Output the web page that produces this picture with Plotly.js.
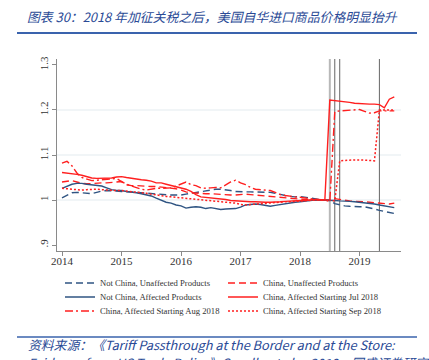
<!DOCTYPE html>
<html>
<head>
<meta charset="utf-8">
<script src="https://cdn.plot.ly/plotly-3.0.1.min.js"></script>
<style>
  html, body { margin: 0; padding: 0; background: #fff; }
  #chart { width: 429px; height: 360px; }
</style>
</head>
<body>
<div id="chart"></div>
<script>
// ---------------- DATA ----------------
// Monthly observations, Jan 2014 .. Aug 2019 (68 months)
const startYear = 2014;
const nMonths = 68;
const months = Array.from({length: nMonths}, (_, i) => startYear + i / 12);

const notChinaUnaffected = [
  1.005,1.010,1.016,1.017,1.016,1.014,1.014,1.017,1.020,1.021,1.021,1.020,
  1.019,1.019,1.018,1.017,1.016,1.015,1.014,1.013,1.012,1.011,1.011,1.011,
  1.011,1.013,1.015,1.017,1.018,1.020,1.022,1.024,1.024,1.023,1.021,1.019,
  1.018,1.018,1.018,1.018,1.018,1.017,1.017,1.015,1.012,1.010,1.008,1.007,
  1.008,1.006,1.004,1.002,1.001,1.000,0.999,0.992,0.989,0.987,0.986,0.985,
  0.985,0.985,0.983,0.980,0.977,0.975,0.972,0.970
];
const chinaUnaffected = [
  1.040,1.042,1.043,1.040,1.037,1.036,1.037,1.037,1.038,1.038,1.039,1.040,
  1.041,1.034,1.032,1.032,1.031,1.031,1.030,1.030,1.029,1.028,1.027,1.025,
  1.022,1.018,1.016,1.015,1.015,1.014,1.014,1.013,1.013,1.012,1.011,1.011,
  1.012,1.013,1.012,1.011,1.010,1.009,1.008,1.007,1.005,1.004,1.003,1.002,
  1.002,1.001,1.001,1.000,1.000,1.000,1.000,1.003,1.001,0.999,0.998,0.997,
  0.997,0.996,0.995,0.994,0.993,0.992,0.991,0.993
];
const notChinaAffected = [
  1.026,1.030,1.035,1.037,1.037,1.035,1.034,1.033,1.031,1.027,1.023,1.021,
  1.021,1.019,1.018,1.016,1.014,1.012,1.009,1.004,1.000,0.995,0.993,0.989,
  0.987,0.982,0.984,0.985,0.984,0.981,0.983,0.981,0.979,0.980,0.980,0.981,
  0.984,0.989,0.990,0.991,0.990,0.988,0.986,0.988,0.990,0.991,0.993,0.995,
  0.996,0.998,0.999,1.000,1.000,1.000,1.000,0.999,0.998,0.998,0.997,0.996,
  0.995,0.994,0.992,0.991,0.989,0.987,0.985,0.983
];
const chinaJul2018 = [
  1.061,1.060,1.059,1.057,1.055,1.052,1.049,1.048,1.048,1.048,1.049,1.051,
  1.052,1.050,1.048,1.047,1.045,1.044,1.042,1.038,1.038,1.035,1.032,1.030,
  1.027,1.024,1.019,1.012,1.007,1.006,1.004,1.003,1.002,1.001,0.999,0.998,
  0.997,0.996,0.996,0.996,0.995,0.995,0.995,0.995,0.996,0.997,0.998,0.998,
  0.999,0.999,1.000,1.001,1.000,1.000,1.222,1.221,1.220,1.219,1.217,1.215,
  1.214,1.213,1.213,1.213,1.212,1.205,1.224,1.229
];
const chinaAug2018 = [
  1.082,1.086,1.076,1.060,1.050,1.046,1.043,1.044,1.045,1.046,1.047,1.048,
  1.041,1.035,1.031,1.027,1.024,1.022,1.024,1.026,1.026,1.026,1.027,1.031,
  1.036,1.040,1.034,1.032,1.027,1.026,1.027,1.028,1.027,1.033,1.040,1.044,
  1.038,1.034,1.028,1.024,1.023,1.022,1.021,1.017,1.012,1.010,1.008,1.007,
  1.006,1.004,1.003,1.002,1.001,1.000,0.997,1.196,1.198,1.199,1.200,1.201,
  1.201,1.197,1.193,1.194,1.198,1.198,1.198,1.198
];
const chinaSep2018 = [
  1.026,1.025,1.024,1.023,1.022,1.023,1.024,1.024,1.023,1.022,1.022,1.021,
  1.021,1.020,1.019,1.017,1.016,1.015,1.013,1.011,1.010,1.008,1.007,1.006,
  1.005,1.004,1.002,1.001,1.000,1.000,0.999,0.998,0.996,0.996,0.995,0.993,
  0.990,0.989,0.990,0.991,0.992,0.993,0.993,0.994,0.995,0.996,0.996,0.997,
  0.998,0.999,0.999,1.000,1.000,1.000,1.000,0.998,1.087,1.088,1.089,1.089,
  1.089,1.089,1.088,1.087,1.200,1.200,1.200,1.200
];

const seriesNames = [
  "Not China, Unaffected Products",
  "China, Unaffected Products",
  "Not China, Affected Products",
  "China, Affected Starting Jul 2018",
  "China, Affected Starting Aug 2018",
  "China, Affected Starting Sep 2018"
];

// tariff event months: Jul 2018, Aug 2018, Sep 2018, May 2019
const tariffDates = [2018 + 6/12, 2018 + 7/12, 2018 + 8/12, 2019 + 4/12];

const xTickVals = [2014, 2015, 2016, 2017, 2018, 2019];
const xTickText = ["2014", "2015", "2016", "2017", "2018", "2019"];
const yTickVals = [0.9, 1.0, 1.1, 1.2, 1.3];
const yTickText = [".9", "1", "1.1", "1.2", "1.3"];
const yGridVals = [1.0, 1.1, 1.2];

const titleText = "图表 30：2018 年加征关税之后，美国自华进口商品价格明显抬升";
const sourceLines = [
  "资料来源：《Tariff Passthrough at the Border and at the Store:",
  "Evidence from US Trade Policy》Cavallo et al.，2019，国盛证券研究所"
];

// ---------------- STYLE ----------------
const NAVY = "#2f5482";
const RED = "#ff1f1f";
const BLUE_RULE = "#3a63ad";
const TEXT_BLUE = "#2a4a96";
const SERIF = "Liberation Serif, Times New Roman, serif";
const CJK = "Noto Sans CJK SC, sans-serif";

// plot-area geometry in pixels (for paper coordinate conversion)
const W = 429, H = 360;
const M = {l: 57, r: 28, t: 59, b: 109};
const PW = W - M.l - M.r, PH = H - M.t - M.b;
const px = x => (x - M.l) / PW;
const py = y => (H - M.b - y) / PH;

const styles = [
  {color: NAVY, dash: "7px,4px", width: 1.4},
  {color: RED, dash: "7px,4px", width: 1.4},
  {color: NAVY, dash: "solid", width: 1.4},
  {color: RED, dash: "solid", width: 1.4},
  {color: RED, dash: "8px,3px,2px,3px", width: 1.4},
  {color: RED, dash: "2px,2px", width: 1.5}
];
const values = [notChinaUnaffected, chinaUnaffected, notChinaAffected, chinaJul2018, chinaAug2018, chinaSep2018];
// legend rows (two entries per row)
const legendIds = ["legend", "legend", "legend2", "legend2", "legend3", "legend3"];

const traces = values.map((v, k) => ({
  type: "scatter",
  mode: "lines",
  x: months,
  y: v,
  name: seriesNames[k],
  legend: legendIds[k],
  line: {color: styles[k].color, dash: styles[k].dash, width: styles[k].width},
  hoverinfo: "skip"
}));

const shapes = [];
yGridVals.forEach(g => shapes.push({
  type: "line", xref: "paper", yref: "y", x0: 0, x1: 1, y0: g, y1: g,
  line: {color: "#e3ebef", width: 1}, layer: "below"
}));
tariffDates.forEach((d, k) => shapes.push({
  type: "line", xref: "x", yref: "paper", x0: d, x1: d, y0: 0, y1: 1,
  line: k === 0 ? {color: "#b8b8b8", width: 2} : {color: "#666", width: 1},
  layer: "below"
}));
// blue rules under title and above source
shapes.push({type: "line", xref: "paper", yref: "paper", x0: px(17), x1: px(417), y0: py(33), y1: py(33),
  line: {color: BLUE_RULE, width: 2}});
shapes.push({type: "line", xref: "paper", yref: "paper", x0: px(17), x1: px(417), y0: py(337), y1: py(337),
  line: {color: BLUE_RULE, width: 1.6}});

const legendBase = {
  orientation: "h",
  x: px(60), xanchor: "left",
  yanchor: "middle",
  entrywidth: 118, entrywidthmode: "pixels",
  font: {family: SERIF, size: 8.6, color: "#333"},
  bgcolor: "rgba(0,0,0,0)",
  borderwidth: 0
};

const sourceAnnots = sourceLines.map((t, k) => ({
  xref: "paper", yref: "paper",
  x: px(26), xanchor: "left",
  y: py(k === 0 ? 344.5 : 362), yanchor: "middle",
  text: "<i>" + t + "</i>",
  align: "left",
  showarrow: false,
  font: {family: CJK, size: 12.8, color: TEXT_BLUE}
}));

const layout = {
  width: W, height: H,
  margin: M,
  paper_bgcolor: "#fff",
  plot_bgcolor: "#fff",
  showlegend: true,
  title: {
    text: "<i>" + titleText + "</i>",
    font: {family: CJK, size: 12.85, color: TEXT_BLUE},
    x: 27 / W, xanchor: "left", xref: "container",
    y: 1 - 18 / H, yanchor: "middle", yref: "container"
  },
  xaxis: {
    range: [2014 - 5 / 59.46, 2014 + 338.7 / 59.46],
    tickvals: xTickVals, ticktext: xTickText,
    showgrid: false, zeroline: false,
    showline: true, linecolor: "#8a8a8a", linewidth: 1,
    ticks: "outside", ticklen: 4, tickcolor: "#8a8a8a",
    ticklabelstandoff: -4,
    tickfont: {family: SERIF, size: 11, color: "#333"},
    fixedrange: true
  },
  yaxis: {
    range: [0.8867, 1.3133],
    tickvals: yTickVals, ticktext: yTickText,
    tickangle: -90,
    showgrid: false, zeroline: false,
    showline: true, linecolor: "#8a8a8a", linewidth: 1,
    ticks: "outside", ticklen: 4, tickcolor: "#8a8a8a",
    tickfont: {family: SERIF, size: 11, color: "#333"},
    fixedrange: true
  },
  legend: Object.assign({}, legendBase, {y: py(283)}),
  legend2: Object.assign({}, legendBase, {y: py(297)}),
  legend3: Object.assign({}, legendBase, {y: py(311)}),
  shapes: shapes,
  annotations: sourceAnnots
};

Plotly.newPlot("chart", traces, layout, {displayModeBar: false, staticPlot: true});
</script>
</body>
</html>
